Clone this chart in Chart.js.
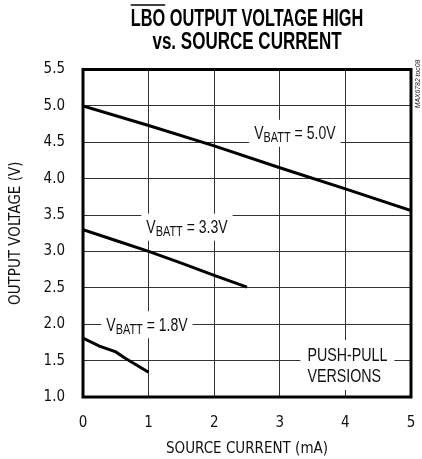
<!DOCTYPE html>
<html>
<head>
<meta charset="utf-8">
<script src="https://cdn.jsdelivr.net/npm/chart.js@4.4.1/dist/chart.umd.min.js"></script>
<style>
  html, body { margin: 0; padding: 0; background: #fff; }
  #wrap { width: 422px; height: 459px; }
</style>
</head>
<body>
<div id="wrap"><canvas id="grafico" width="422" height="459"></canvas></div>
<script>
// dados (corrente em mA, tensão em V)
const corrente50 = [0, 1, 2, 3, 4, 5];
const tensao50 = [5.0, 4.73, 4.45, 4.15, 3.86, 3.56];
const corrente33 = [0, 0.5, 1, 1.5, 2, 2.5];
const tensao33 = [3.3, 3.15, 3.0, 2.84, 2.67, 2.51];
const corrente18 = [0, 0.25, 0.5, 0.65, 1];
const tensao18 = [1.81, 1.70, 1.62, 1.53, 1.34];

// marcas dos eixos
const ticksX = [0, 1, 2, 3, 4, 5];
const ticksY = [1.0, 1.5, 2.0, 2.5, 3.0, 3.5, 4.0, 4.5, 5.0, 5.5];

const FONTE_EIXO = "'DejaVu Sans Condensed', 'Liberation Sans', sans-serif";
const FONTE = "'Liberation Sans', Arial, sans-serif";
const FATOR = 0.78; // compressão horizontal dos textos desenhados à mão

// rótulos dentro do gráfico (posição em unidades dos eixos)
const rotulos = [
    { partes: [['V', 0], ['BATT', 1], [' = 5.0V', 0]], x: 3.23, y: 4.63 },
    { partes: [['V', 0], ['BATT', 1], [' = 3.3V', 0]], x: 1.585, y: 3.34 },
    { partes: [['V', 0], ['BATT', 1], [' = 1.8V', 0]], x: 0.975, y: 2.0 },
    { linhas: ['PUSH-PULL', 'VERSIONS'], x: 4.03, y: 1.44 }
];

function montaSerie(xs, ys) {
    return xs.map((x, i) => ({ x: x, y: ys[i] }));
}

// escreve texto comprimido na horizontal
function textoEstreito(ctx, txt, x, y, fator, alinhamento) {
    ctx.save();
    ctx.translate(x, y);
    ctx.scale(fator, 1);
    ctx.textAlign = alinhamento;
    ctx.fillText(txt, 0, 0);
    ctx.restore();
}

const pluginDesenho = {
    id: 'desenho',
    beforeDatasetsDraw(chart) {
        const ctx = chart.ctx;
        const sx = chart.scales.x, sy = chart.scales.y;
        ctx.save();
        ctx.textBaseline = 'alphabetic';
        rotulos.forEach(r => {
            const cx = sx.getPixelForValue(r.x);
            const cy = sy.getPixelForValue(r.y);
            if (r.partes) {
                let total = 0;
                r.partes.forEach(p => {
                    ctx.font = (p[1] ? 14 : 18) + 'px ' + FONTE;
                    total += ctx.measureText(p[0]).width * FATOR;
                });
                ctx.fillStyle = '#fff';
                ctx.fillRect(cx - total / 2 - 5, cy - 13, total + 10, 27);
                ctx.fillStyle = '#111';
                let px = cx - total / 2;
                r.partes.forEach(p => {
                    ctx.font = (p[1] ? 14 : 18) + 'px ' + FONTE;
                    textoEstreito(ctx, p[0], px, cy + 6.5 + (p[1] ? 3 : 0), FATOR, 'left');
                    px += ctx.measureText(p[0]).width * FATOR;
                });
            } else {
                ctx.font = '19px ' + FONTE;
                const larg = Math.max(...r.linhas.map(l => ctx.measureText(l).width)) * 0.75;
                const alt = r.linhas.length * 21;
                ctx.fillStyle = '#fff';
                ctx.fillRect(cx - larg / 2 - 7, cy - alt / 2 - 4, larg + 14, alt + 8);
                ctx.fillStyle = '#111';
                r.linhas.forEach((l, i) => {
                    textoEstreito(ctx, l, cx - larg / 2, cy - alt / 2 + 21 * i + 17, 0.75, 'left');
                });
            }
        });
        ctx.restore();
    },
    afterDraw(chart) {
        const ctx = chart.ctx;
        const a = chart.chartArea;
        ctx.save();
        // moldura do gráfico
        ctx.strokeStyle = '#000';
        ctx.lineWidth = 3;
        ctx.strokeRect(a.left, a.top, a.right - a.left, a.bottom - a.top);

        // título
        const meio = (a.left + a.right) / 2;
        ctx.fillStyle = '#000';
        ctx.font = 'bold 23px ' + FONTE;
        ctx.textBaseline = 'alphabetic';
        const linha1 = 'LBO OUTPUT VOLTAGE HIGH';
        const fatorTitulo = 0.71;
        textoEstreito(ctx, linha1, meio, 25.5, fatorTitulo, 'center');
        textoEstreito(ctx, 'vs. SOURCE CURRENT', meio, 48.5, fatorTitulo + 0.03, 'center');
        // barra sobre LBO
        const w1 = ctx.measureText(linha1).width * fatorTitulo;
        const wLbo = ctx.measureText('LBO').width * fatorTitulo;
        ctx.strokeStyle = '#000';
        ctx.lineWidth = 1.5;
        ctx.beginPath();
        ctx.moveTo(meio - w1 / 2, 5);
        ctx.lineTo(meio - w1 / 2 + wLbo, 5);
        ctx.stroke();

        // código da figura na lateral
        ctx.translate(418, 84);
        ctx.rotate(-Math.PI / 2);
        ctx.font = 'italic 8px ' + FONTE;
        ctx.textBaseline = 'middle';
        ctx.fillStyle = '#222';
        textoEstreito(ctx, 'MAX6782 toc08', 0, 0, 0.85, 'center');
        ctx.restore();
    }
};

const ctx = document.getElementById('grafico').getContext('2d');
const serieBase = { borderColor: '#000', borderWidth: 3, pointRadius: 0, fill: false, tension: 0 };

new Chart(ctx, {
    type: 'line',
    data: {
        datasets: [
            Object.assign({ label: 'VBATT = 5.0V', data: montaSerie(corrente50, tensao50) }, serieBase),
            Object.assign({ label: 'VBATT = 3.3V', data: montaSerie(corrente33, tensao33) }, serieBase),
            Object.assign({ label: 'VBATT = 1.8V', data: montaSerie(corrente18, tensao18) }, serieBase)
        ]
    },
    options: {
        responsive: false,
        devicePixelRatio: 1,
        animation: false,
        layout: { padding: { top: 69.5, right: 11, left: 0, bottom: 0 } },
        plugins: {
            legend: { display: false },
            title: { display: false },
            tooltip: { enabled: false }
        },
        scales: {
            x: {
                type: 'linear',
                min: 0,
                max: 5,
                afterBuildTicks: s => { s.ticks = ticksX.map(v => ({ value: v })); },
                afterFit: s => { s.height = 62; },
                ticks: { color: '#111', font: { family: FONTE_EIXO, size: 15 }, padding: 3, callback: v => String(v) },
                grid: { color: '#333', lineWidth: 1, drawTicks: true, tickLength: 14, tickColor: 'rgba(0,0,0,0)' },
                border: { display: false },
                title: { display: true, text: 'SOURCE CURRENT (mA)', color: '#111', font: { family: FONTE_EIXO, size: 15 }, padding: { top: 0, bottom: 1 } }
            },
            y: {
                type: 'linear',
                min: 1,
                max: 5.5,
                afterBuildTicks: s => { s.ticks = ticksY.map(v => ({ value: v })); },
                afterFit: s => { s.width = 83; },
                ticks: { color: '#111', font: { family: FONTE_EIXO, size: 15 }, padding: 18, callback: v => Number(v).toFixed(1) },
                grid: { color: '#333', lineWidth: 1, drawTicks: false },
                border: { display: false },
                title: { display: true, text: 'OUTPUT VOLTAGE (V)', color: '#111', font: { family: FONTE_EIXO, size: 15 }, padding: { top: 7, bottom: 0 } }
            }
        }
    },
    plugins: [pluginDesenho]
});
</script>
</body>
</html>
